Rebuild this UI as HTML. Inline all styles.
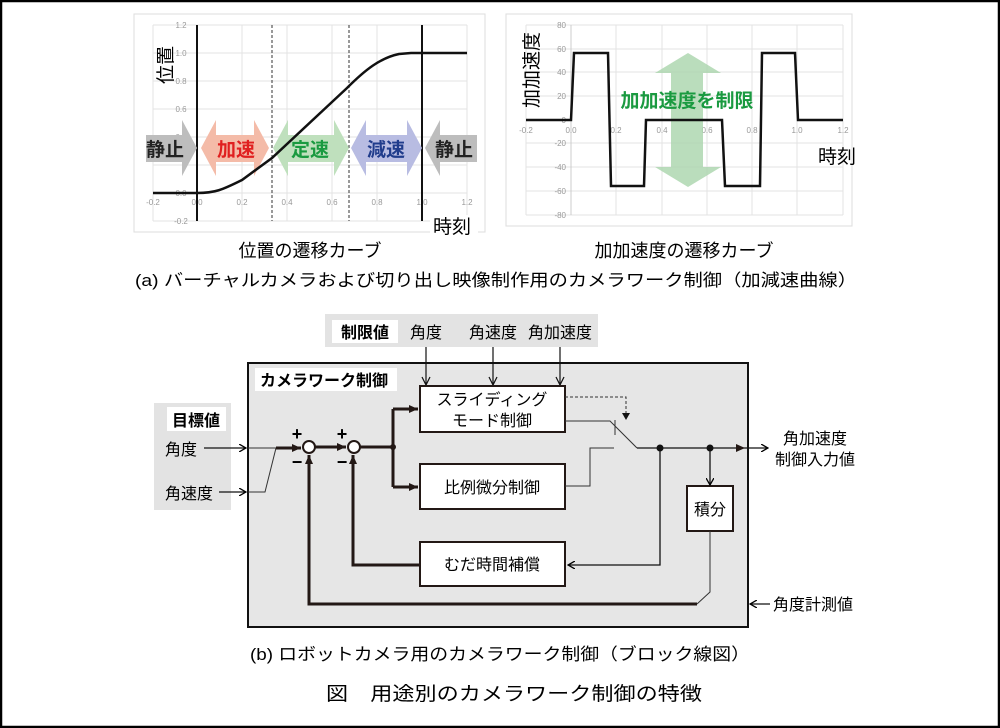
<!DOCTYPE html>
<html><head><meta charset="utf-8"><style>
html,body{margin:0;padding:0;background:#fff}
svg{display:block}
text{font-family:"Liberation Sans","Noto Sans CJK JP",sans-serif}
</style></head><body>
<svg width="1000" height="728" viewBox="0 0 1000 728" xmlns="http://www.w3.org/2000/svg">
<defs>
<marker id="ah" markerWidth="8" markerHeight="8" refX="7" refY="4" orient="auto" markerUnits="userSpaceOnUse"><path d="M0,0 L7,4 L0,8" fill="none" stroke="#000" stroke-width="1.3"/></marker>
<marker id="af" markerWidth="10" markerHeight="10" refX="9" refY="5" orient="auto" markerUnits="userSpaceOnUse"><path d="M0,1 L9,5 L0,9 Z" fill="#231815"/></marker>
</defs>
<rect x="1" y="1" width="998" height="726" fill="#fff" stroke="#000" stroke-width="2.5"/>

<!-- Left chart -->
<rect x="134" y="14" width="351" height="218" fill="#fff" stroke="#ddd"/>
<g stroke="#e3e3e3" stroke-width="1">
<path d="M153,25V221M197,25V221M242,25V221M287,25V221M332,25V221M377,25V221M422,25V221M467,25V221"/>
<path d="M153,25H467M153,53H467M153,81H467M153,109H467M153,137H467M153,165H467M153,193H467M153,221H467"/>
</g>
<g font-size="8" fill="#999" text-anchor="middle">
<text x="181" y="28">1.2</text><text x="181" y="56">1.0</text><text x="181" y="84">0.8</text><text x="181" y="112">0.6</text><text x="181" y="140">0.4</text><text x="181" y="196">0.0</text><text x="181" y="224">-0.2</text>
<text x="153" y="205">-0.2</text><text x="197" y="205">0.0</text><text x="242" y="205">0.2</text><text x="287" y="205">0.4</text><text x="332" y="205">0.6</text><text x="377" y="205">0.8</text><text x="422" y="205">1.0</text><text x="467" y="205">1.2</text>
</g>
<path d="M197,25V221M422,25V221" stroke="#111" stroke-width="2"/>
<path d="M272,25V221M349,25V221" stroke="#333" stroke-width="1" stroke-dasharray="3,2"/>
<path d="M146,135H182V120L197,148L182,176V162H146Z" fill="#bdbdbd"/>
<path d="M201,148L216,120V135H254V120L269,148L254,176V162H216V176Z" fill="#f4bba8"/>
<path d="M273,148L288,120V135H334V120L349,148L334,176V162H288V176Z" fill="#bfe0bd"/>
<path d="M351,148L366,120V135H407V120L422,148L407,176V162H366V176Z" fill="#b8bce2"/>
<path d="M477,135H440V120L425,148L440,176V162H477Z" fill="#bdbdbd"/>
<path d="M153,193L197,193C215,193 222,190 242,180L272,158L347,88C365,70 380,58 399,54L411,53H467" fill="none" stroke="#111" stroke-width="2.5"/>
<g font-size="19" font-weight="bold" text-anchor="middle">
<text x="165" y="156" fill="#222">静止</text>
<text x="236" y="156" fill="#e02020">加速</text>
<text x="310" y="156" fill="#1a9a40">定速</text>
<text x="386" y="156" fill="#203c8c">減速</text>
<text x="454" y="156" fill="#222">静止</text>
</g>
<rect x="430" y="215" width="48" height="22" fill="#fff"/>
<text x="433" y="233" font-size="19">時刻</text>
<text transform="translate(172,65) rotate(-90)" font-size="19" text-anchor="middle">位置</text>

<!-- Right chart -->
<rect x="506" y="14" width="346" height="212" fill="#fff" stroke="#ddd"/>
<g stroke="#e3e3e3" stroke-width="1">
<path d="M526,25V215M571,25V215M616,25V215M662,25V215M707,25V215M752,25V215M797,25V215M843,25V215"/>
<path d="M526,25H843M526,49H843M526,72H843M526,96H843M526,143H843M526,167H843M526,191H843M526,215H843"/>
</g>
<path d="M571,25V215" stroke="#ccc"/>
<g font-size="8" fill="#999" text-anchor="end">
<text x="566" y="28">80</text><text x="566" y="52">60</text><text x="566" y="75">40</text><text x="566" y="99">20</text><text x="566" y="123">0</text><text x="566" y="146">-20</text><text x="566" y="170">-40</text><text x="566" y="194">-60</text><text x="566" y="218">-80</text>
</g>
<g font-size="8" fill="#999" text-anchor="middle">
<text x="526" y="133">-0.2</text><text x="571" y="133">0.0</text><text x="616" y="133">0.2</text><text x="662" y="133">0.4</text><text x="707" y="133">0.6</text><text x="752" y="133">0.8</text><text x="797" y="133">1.0</text><text x="843" y="133">1.2</text>
</g>
<path d="M688,53L721,73H703V167H721L688,187L655,167H671V73H655Z" fill="#a9d4ab" opacity="0.8"/>
<path d="M526,120H571L574,53H608L611,186H644L646,120H722L725,186H760L762,53H795L798,120H843" fill="none" stroke="#111" stroke-width="2.5"/>
<text x="687" y="107" font-size="19" font-weight="bold" fill="#1a9a40" text-anchor="middle">加加速度を制限</text>
<text x="818" y="163" font-size="19">時刻</text>
<text transform="translate(538,70) rotate(-90)" font-size="19" text-anchor="middle">加加速度</text>

<text x="310" y="257" font-size="18" text-anchor="middle">位置の遷移カーブ</text>
<text x="684" y="257" font-size="18" text-anchor="middle">加加速度の遷移カーブ</text>
<text x="135" y="286" font-size="17" textLength="722" lengthAdjust="spacingAndGlyphs">(a) バーチャルカメラおよび切り出し映像制作用のカメラワーク制御（加減速曲線）</text>

<!-- Block diagram -->
<rect x="325" y="314" width="273" height="33" fill="#e3e3e3"/>
<rect x="332" y="320" width="66" height="23" fill="#fff"/>
<text x="365" y="338" font-size="16" font-weight="bold" text-anchor="middle">制限値</text>
<g font-size="16" text-anchor="middle">
<text x="426" y="338">角度</text><text x="493" y="338">角速度</text><text x="560" y="338">角加速度</text>
</g>
<rect x="248" y="363" width="500" height="264" fill="#e6e6e6" stroke="#111" stroke-width="2"/>
<rect x="255" y="368" width="142" height="23" fill="#fff"/>
<text x="260" y="386" font-size="16" font-weight="bold">カメラワーク制御</text>
<g stroke="#111" stroke-width="1.2" fill="none">
<path d="M426,347V385M493,347V385M560,347V385"/>
<path d="M422,377L426,385L430,377M489,377L493,385L497,377M556,377L560,385L564,377"/>
</g>
<rect x="154" y="403" width="77" height="107" fill="#e3e3e3"/>
<rect x="167" y="407" width="59" height="24" fill="#fff"/>
<text x="196" y="426" font-size="16" font-weight="bold" text-anchor="middle">目標値</text>
<text x="165" y="455" font-size="16">角度</text>
<text x="165" y="499" font-size="16">角速度</text>
<g stroke="#111" stroke-width="1.2" fill="none">
<path d="M204,448H246" marker-end="url(#ah)"/>
<path d="M219,492H246" marker-end="url(#ah)"/>
</g>
<g stroke="#333" stroke-width="1" fill="none">
<path d="M248,448H278"/>
<path d="M248,492H265L276,448"/>
</g>
<g stroke="#231815" stroke-width="3" fill="none">
<path d="M276,448H301" marker-end="url(#af)"/>
<path d="M315,447H346" marker-end="url(#af)"/>
<path d="M360,447H393"/>
<path d="M393,409V487"/>
<path d="M393,409H418" marker-end="url(#af)"/>
<path d="M393,487H418" marker-end="url(#af)"/>
<path d="M420,565H353V455" marker-end="url(#af)"/>
<path d="M697,604H309V455" marker-end="url(#af)"/>
</g>
<circle cx="393" cy="447" r="3" fill="#231815"/>
<circle cx="309" cy="447" r="6" fill="#fff" stroke="#231815" stroke-width="2"/>
<circle cx="354" cy="447" r="6" fill="#fff" stroke="#231815" stroke-width="2"/>
<g font-size="18" font-weight="bold" text-anchor="middle">
<text x="297" y="440">+</text><text x="342" y="440">+</text>
<text x="297" y="468">−</text><text x="342" y="468">−</text>
</g>
<rect x="420" y="386" width="145" height="46" fill="#fff" stroke="#231815" stroke-width="2"/>
<text x="492" y="405" font-size="16" text-anchor="middle">スライディング</text>
<text x="492" y="426" font-size="16" text-anchor="middle">モード制御</text>
<rect x="420" y="464" width="145" height="45" fill="#fff" stroke="#231815" stroke-width="2"/>
<text x="492" y="493" font-size="16" text-anchor="middle">比例微分制御</text>
<rect x="420" y="542" width="145" height="44" fill="#fff" stroke="#231815" stroke-width="2"/>
<text x="492" y="570" font-size="16" text-anchor="middle">むだ時間補償</text>
<rect x="687" y="486" width="46" height="45" fill="#fff" stroke="#231815" stroke-width="2"/>
<text x="710" y="515" font-size="16" text-anchor="middle">積分</text>
<g stroke="#333" stroke-width="1" fill="none">
<path d="M565,397H626V416" stroke-dasharray="3,2"/>
<path d="M565,421H610L637,448"/>
<path d="M615,420V435"/>
<path d="M565,486H590V448H614"/>
<path d="M710,531V592L697,604"/>
</g>
<path d="M622,413L626,420L630,413Z" fill="#111"/>
<g stroke="#111" stroke-width="1.3" fill="none">
<path d="M637,448H745" marker-end="url(#af)"/>
<path d="M745,448H768" marker-end="url(#ah)"/>
<path d="M660,448V565H568" marker-end="url(#ah)"/>
<path d="M710,448V485" marker-end="url(#ah)"/>
<path d="M770,604H750" marker-end="url(#ah)"/>
</g>
<circle cx="660" cy="448" r="3.5" fill="#111"/>
<circle cx="710" cy="448" r="3.5" fill="#111"/>
<text x="815" y="444" font-size="16" text-anchor="middle">角加速度</text>
<text x="815" y="465" font-size="16" text-anchor="middle">制御入力値</text>
<text x="773" y="610" font-size="16">角度計測値</text>

<text x="250" y="660" font-size="17" textLength="500" lengthAdjust="spacingAndGlyphs">(b) ロボットカメラ用のカメラワーク制御（ブロック線図）</text>
<text x="326" y="700" font-size="19" textLength="376" lengthAdjust="spacingAndGlyphs">図　用途別のカメラワーク制御の特徴</text>
</svg>
</body></html>
